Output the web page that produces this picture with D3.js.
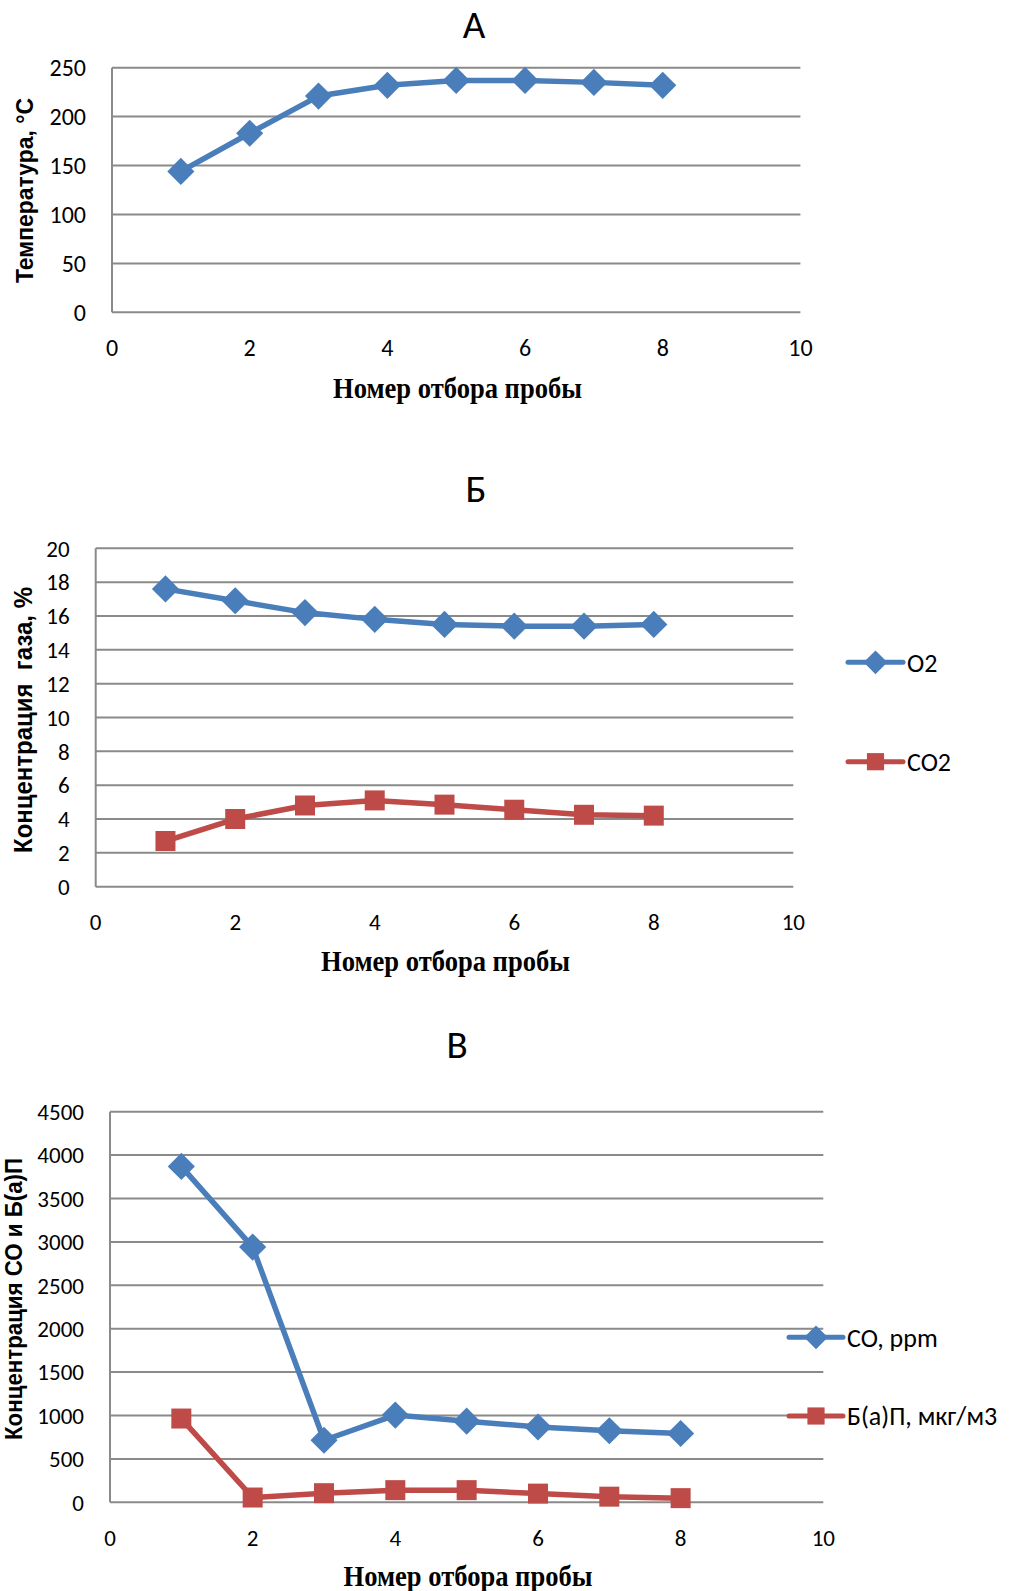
<!DOCTYPE html>
<html>
<head>
<meta charset="utf-8">
<script src="https://cdn.jsdelivr.net/npm/d3@7"></script>
<style>
  body { margin: 0; background: #fff; }
  text { fill: #000; }
  .tick-lbl { font-family: Carlito, Lato, sans-serif; }
  .ttl { font-family: Carlito, Lato, sans-serif; }
  .ytitle { font-family: "Liberation Sans", Arial, sans-serif; font-weight: bold; }
  .xtitle { font-family: "Liberation Serif", "Times New Roman", serif; font-weight: bold; }
</style>
</head>
<body>
<div id="chart"></div>
<script>
// data
var sampleNo = [1, 2, 3, 4, 5, 6, 7, 8];
var xTicks = [0, 2, 4, 6, 8, 10];

var temperature = [144, 183, 221, 232, 237, 237, 235, 232];

var o2 = [17.6, 16.9, 16.2, 15.8, 15.5, 15.4, 15.4, 15.5];
var co2 = [2.7, 4.0, 4.8, 5.1, 4.85, 4.55, 4.25, 4.2];

var co = [3870, 2940, 715, 1005, 935, 868, 824, 793];
var bap = [965, 55, 105, 140, 140, 100, 65, 48];

var yTicksA = [0, 50, 100, 150, 200, 250];
var yTicksB = [0, 2, 4, 6, 8, 10, 12, 14, 16, 18, 20];
var yTicksC = [0, 500, 1000, 1500, 2000, 2500, 3000, 3500, 4000, 4500];

var xLabel = "Номер отбора пробы";

var blue = "#4a7ebb", red = "#be4b48", grid = "#8a8a8a";

var svg = d3.select("#chart").append("svg")
  .attr("width", 1011)
  .attr("height", 1591);

var diamond = d3.symbol().type(d3.symbolDiamond2);
var square = d3.symbol().type(d3.symbolSquare);

function drawChart(c) {
  var x = d3.scaleLinear().domain([0, 10]).range([c.left, c.right]);
  var y = d3.scaleLinear().domain([0, c.yMax]).range([c.bottom, c.top]);

  var g = svg.append("g");

  // gridlines
  g.selectAll(".grid")
    .data(c.yTicks)
    .enter()
    .append("line")
      .attr("x1", c.left).attr("x2", c.right)
      .attr("y1", d => y(d)).attr("y2", d => y(d))
      .attr("stroke", grid)
      .attr("stroke-width", 2);

  // y axis line
  g.append("line")
    .attr("x1", c.left).attr("x2", c.left)
    .attr("y1", c.top).attr("y2", c.bottom)
    .attr("stroke", grid)
    .attr("stroke-width", 2);

  // y tick labels
  g.selectAll(".ylbl")
    .data(c.yTicks)
    .enter()
    .append("text")
      .attr("class", "tick-lbl")
      .attr("x", c.left - 26)
      .attr("y", d => y(d))
      .attr("dy", "0.36em")
      .attr("text-anchor", "end")
      .attr("font-size", c.tickSize + "px")
      .text(d => d);

  // x tick labels
  g.selectAll(".xlbl")
    .data(xTicks)
    .enter()
    .append("text")
      .attr("class", "tick-lbl")
      .attr("x", d => x(d))
      .attr("y", c.bottom + 35.5)
      .attr("dy", "0.36em")
      .attr("text-anchor", "middle")
      .attr("font-size", c.tickSize + "px")
      .text(d => d);

  // title
  g.append("text")
    .attr("class", "ttl")
    .attr("x", c.title.x)
    .attr("y", c.title.y)
    .attr("text-anchor", "middle")
    .attr("font-size", "39px")
    .text(c.title.text);

  // axis titles
  g.append("text")
    .attr("class", "ytitle")
    .attr("transform", `translate(${c.ytitle.x},${c.ytitle.cy}) rotate(-90)`)
    .attr("text-anchor", "middle")
    .attr("font-size", c.ytitle.size + "px")
    .attr("textLength", c.ytitle.len)
    .attr("lengthAdjust", "spacingAndGlyphs")
    .style("white-space", "pre")
    .text(c.ytitle.text);

  g.append("text")
    .attr("class", "xtitle")
    .attr("x", c.xtitle.cx)
    .attr("y", c.xtitle.y)
    .attr("text-anchor", "middle")
    .attr("font-size", "29px")
    .attr("textLength", 249)
    .attr("lengthAdjust", "spacingAndGlyphs")
    .text(xLabel);

  // series
  c.series.forEach(function(s, i) {
    var pts = sampleNo.map((n, k) => [n, s.values[k]]);
    g.append("path")
      .datum(pts)
      .attr("fill", "none")
      .attr("stroke", s.color)
      .attr("stroke-width", 5.5)
      .attr("stroke-linejoin", "round")
      .attr("d", d3.line().x(d => x(d[0])).y(d => y(d[1])));

    g.selectAll(".m" + i)
      .data(pts)
      .enter()
      .append("path")
        .attr("transform", d => `translate(${x(d[0])},${y(d[1])})`)
        .attr("d", s.shape == "diamond" ? diamond.size(470)() : square.size(400)())
        .attr("fill", s.color);

    // legend
    if (c.legend) {
      var ly = c.legend.rows[i];
      var lg = g.append("g");
      lg.append("line")
        .attr("x1", c.legend.x0).attr("x2", c.legend.x1)
        .attr("y1", ly).attr("y2", ly)
        .attr("stroke", s.color)
        .attr("stroke-width", 5)
        .attr("stroke-linecap", "round");
      lg.append("path")
        .attr("transform", `translate(${(c.legend.x0 + c.legend.x1) / 2},${ly})`)
        .attr("d", s.shape == "diamond" ? diamond.size(360)() : square.size(295)())
        .attr("fill", s.color);
      lg.append("text")
        .attr("class", "tick-lbl")
        .attr("x", c.legend.tx)
        .attr("y", ly)
        .attr("dy", "0.36em")
        .attr("font-size", "26px")
        .text(s.name);
    }
  });
}

drawChart({
  left: 112, right: 800.4, top: 67.7, bottom: 312.3,
  yMax: 250, yTicks: yTicksA, tickSize: 24,
  title: {text: "А", x: 474, y: 38},
  ytitle: {text: "Температура, °С", x: 33, cy: 190.5, len: 185, size: 24},
  xtitle: {cx: 457.5, y: 398},
  series: [{name: "Температура", values: temperature, color: blue, shape: "diamond"}]
});

drawChart({
  left: 95.7, right: 793.3, top: 548.3, bottom: 886.7,
  yMax: 20, yTicks: yTicksB, tickSize: 23,
  title: {text: "Б", x: 476, y: 502},
  ytitle: {text: "Концентрация  газа, %", x: 31.7, cy: 720, len: 266, size: 25},
  xtitle: {cx: 445.5, y: 971},
  legend: {x0: 848, x1: 903, tx: 907, rows: [662.3, 761.7]},
  series: [
    {name: "O2", values: o2, color: blue, shape: "diamond"},
    {name: "CO2", values: co2, color: red, shape: "square"}
  ]
});

drawChart({
  left: 110, right: 823.3, top: 1111.7, bottom: 1502.3,
  yMax: 4500, yTicks: yTicksC, tickSize: 23,
  title: {text: "В", x: 457, y: 1058},
  ytitle: {text: "Концентрация СО и Б(а)П", x: 22, cy: 1299, len: 282, size: 23},
  xtitle: {cx: 468, y: 1586},
  legend: {x0: 789, x1: 843, tx: 847, rows: [1337.3, 1416]},
  series: [
    {name: "CO, ppm", values: co, color: blue, shape: "diamond"},
    {name: "Б(а)П, мкг/м3", values: bap, color: red, shape: "square"}
  ]
});
</script>
</body>
</html>
